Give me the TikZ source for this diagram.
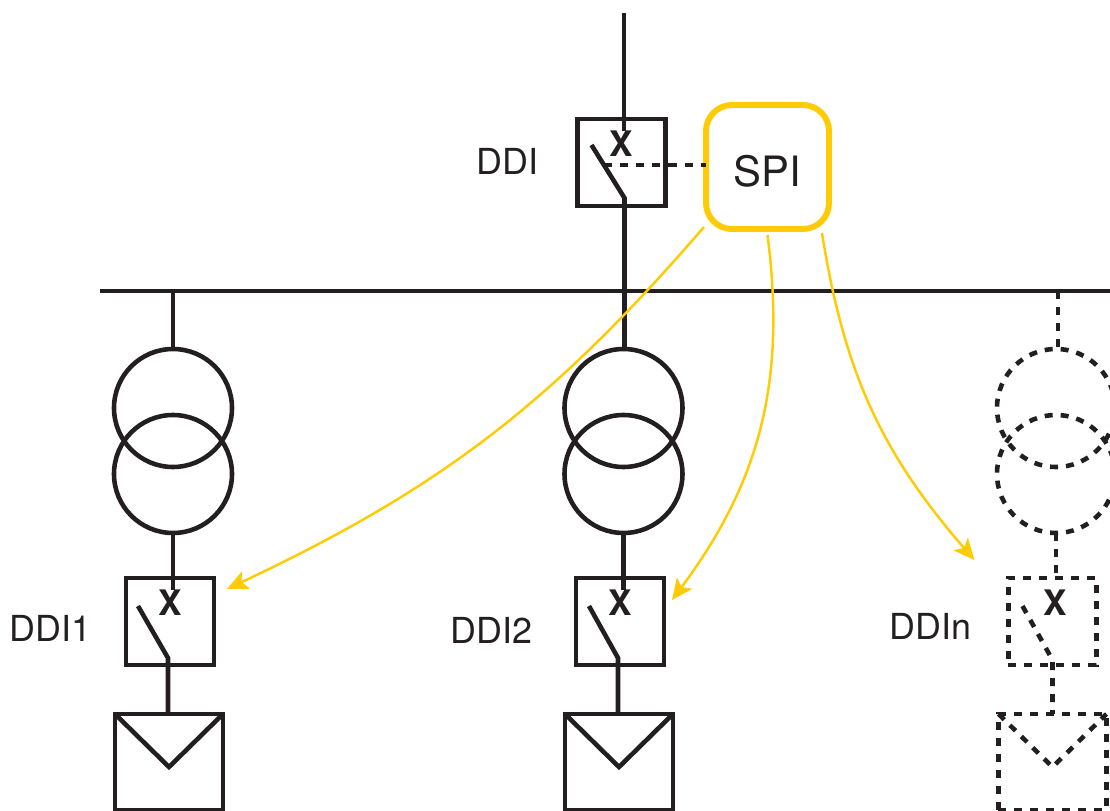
\documentclass[tikz,border=0pt]{standalone}
\usepackage{fontspec}
\setmainfont{TeX Gyre Heros}
\usepackage{xcolor}
\usetikzlibrary{arrows.meta, positioning}
\definecolor{ink}{HTML}{231F20}
\definecolor{signal}{HTML}{FFCB05}

\begin{document}
\begin{tikzpicture}[
    line width=1.3pt,
    color=ink,
    swbox/.style={draw,rectangle,inner sep=0,outer sep=0,minimum width=0.88 cm,minimum height=0.87 cm},
    pvbox/.style={draw,rectangle,inner sep=0,outer sep=0,minimum width=1.08 cm,minimum height=0.96 cm},
    winding/.style={draw,circle,inner sep=0,outer sep=0,minimum size=1.18 cm},
    contact/.style={inner sep=0,outer sep=0,font=\fontsize{10}{12}\selectfont\bfseries},
    ddilabel/.style={inner sep=0,outer sep=0,font=\fontsize{10.2}{12}\selectfont},
    dashline/.style={dash pattern=on 0.08cm off 0.08cm},
    sigline/.style={color=signal,line width=0.7pt,>={Stealth[length=0.21cm,width=0.19cm,inset=0.05cm]},->}
    ]
    \useasboundingbox (0,0) rectangle (11.1,-8.11);
    % Add the bus and the feeder
        \coordinate (busl) at (1.00,-2.91);
        \coordinate (busr) at (11.10,-2.91);
        \coordinate (top) at (6.24,-0.13);
        \node[swbox] (sw0) at (6.215,-1.625) {};
        \node[contact,
            below=0.12 cm of sw0.north
            ] (x0) {X};
        \node[ddilabel,
            left=0.39 cm of sw0,
            yshift=0.01 cm
            ] (ddi0) {DDI};
        \node[draw=signal,
            line width=1.7pt,
            rectangle,
            rounded corners=0.26 cm,
            inner sep=0,
            outer sep=0,
            minimum width=1.23 cm,
            minimum height=1.24 cm,
            font=\fontsize{11.9}{14}\selectfont,
            text=ink
            ] (spi) at (7.675,-1.67) {\raisebox{-0.195cm}[0pt][0pt]{SPI}};
        \coordinate[above right=0.61 cm and 0.14 cm of sw0.south west] (s0a);
        \coordinate[above right=0.08 cm and 0.47 cm of sw0.south west] (s0b);
        \coordinate[above right=0.41 cm and 0.27 cm of sw0.south west] (d0);
    % Add the first branch
        \coordinate (b1) at (1.73,-2.91);
        \node[winding] (t1a) at (1.73,-4.08) {};
        \node[winding,
            below=-0.52 cm of t1a
            ] (t1b) {};
        \node[swbox] (sw1) at (1.70,-6.215) {};
        \node[contact,
            below=0.12 cm of sw1.north
            ] (x1) {X};
        \node[ddilabel,
            left=0.35 cm of sw1,
            yshift=-0.065 cm
            ] (ddi1) {DDI1};
        \node[pvbox,
            below=0.49 cm of sw1,
            xshift=-0.01 cm
            ] (pv1) {};
        \coordinate[above right=0.59 cm and 0.12 cm of sw1.south west] (s1a);
        \coordinate[above right=0.07 cm and 0.42 cm of sw1.south west] (s1b);
        \coordinate[below=0.53 cm of pv1.north] (v1);
    % Add the second branch
        \node[winding] (t2a) at (6.235,-4.08) {};
        \node[winding,
            below=-0.52 cm of t2a
            ] (t2b) {};
        \node[swbox] (sw2) at (6.20,-6.215) {};
        \node[contact,
            below=0.12 cm of sw2.north
            ] (x2) {X};
        \node[ddilabel,
            left=0.44 cm of sw2,
            yshift=-0.085 cm
            ] (ddi2) {DDI2};
        \node[pvbox,
            below=0.49 cm of sw2,
            xshift=-0.01 cm
            ] (pv2) {};
        \coordinate[above right=0.59 cm and 0.13 cm of sw2.south west] (s2a);
        \coordinate[above right=0.07 cm and 0.42 cm of sw2.south west] (s2b);
        \coordinate[below=0.53 cm of pv2.north] (v2);
    % Add the dashed branch
        \coordinate (b3) at (10.58,-2.91);
        \node[winding,dashline] (t3a) at (10.56,-4.08) {};
        \node[winding,dashline,
            below=-0.52 cm of t3a
            ] (t3b) {};
        \node[swbox,dashline] (sw3) at (10.525,-6.215) {};
        \node[contact,
            below=0.12 cm of sw3.north,
            xshift=0.025 cm
            ] (x3) {X};
        \node[ddilabel,
            left=0.37 cm of sw3,
            yshift=-0.045 cm
            ] (ddi3) {DDIn};
        \node[pvbox,dashline,
            below=0.49 cm of sw3
            ] (pv3) {};
        \coordinate[above right=0.59 cm and 0.14 cm of sw3.south west] (s3a);
        \coordinate[above right=0.05 cm and 0.44 cm of sw3.south west] (s3b);
        \coordinate[below=0.53 cm of pv3.north] (v3);
    % Add the ends of the signal arrows
        \coordinate[above left=0.02 cm and 0.02 cm of spi.south west] (a1);
        \coordinate[below=0.06 cm of spi.south] (a2);
        \coordinate[below left=0.04 cm and 0.07 cm of spi.south east] (a3);
        \coordinate[above right=0.325 cm and 0.13 cm of sw1.east] (tip1);
        \coordinate[above right=0.215 cm and 0.08 cm of sw2.east] (tip2);
        \coordinate[above left=0.18 cm and 0.34 cm of sw3.north west] (tip3);

    \draw (busl) -- (busr);
    \draw (top) -- (top |- x0.north);
    \draw (s0a) -- (s0b) -- (s0b |- t2a.north);
    \draw[dashline] (d0) -- (d0 -| spi.west);

    \draw (b1) -- (t1a.north);
    \draw (t1b.south) -- (t1b.south |- x1.north);
    \draw (s1a) -- (s1b) -- (s1b |- pv1.north);
    \draw (pv1.north west) -- (v1) -- (pv1.north east);

    \draw (t2b.south) -- (t2b.south |- x2.north);
    \draw (s2a) -- (s2b) -- (s2b |- pv2.north);
    \draw (pv2.north west) -- (v2) -- (pv2.north east);

    \draw[dashline] (b3) -- (b3 |- t3a.north);
    \draw[dashline] (t3b.south) -- (t3b.south |- sw3.north);
    \draw[dashline] (s3a) -- (s3b) -- (s3b |- pv3.north);
    \draw[dashline] (pv3.north west) -- (v3) -- (pv3.north east);

    \draw[sigline] (a1) to[bend left=12] (tip1);
    \draw[sigline] (a2) to[bend left=22] (tip2);
    \draw[sigline] (a3) to[bend right=16] (tip3);
\end{tikzpicture}
\end{document}
